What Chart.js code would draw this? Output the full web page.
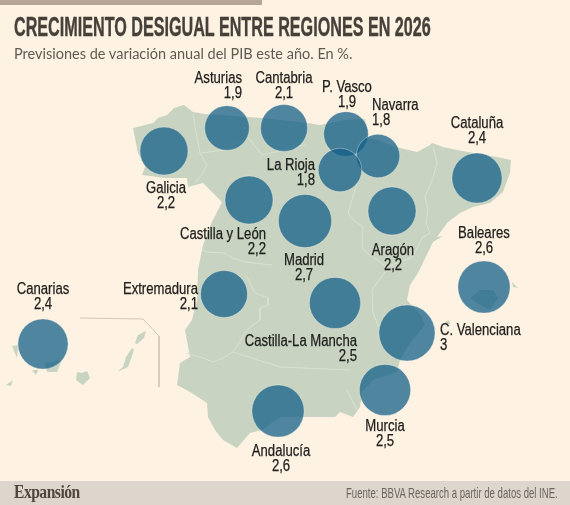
<!DOCTYPE html>
<html lang="es">
<head>
<meta charset="utf-8">
<script src="https://cdn.jsdelivr.net/npm/chart.js@4"></script>
<style>
  html, body { margin: 0; padding: 0; background: #fef2e2; }
  #wrap { position: relative; width: 570px; height: 505px; overflow: hidden; }
  #topbar { position: absolute; left: 0; top: 0; width: 262px; height: 5px; background: #b5a696; }
  #foot { position: absolute; left: 0; top: 481px; width: 570px; height: 24px; background: #ded5cd; }
  #title { position: absolute; left: 14px; top: 12px; margin: 0; font: bold 27px "Liberation Sans", sans-serif; color: #45413a; white-space: nowrap; transform-origin: 0 0; -webkit-text-stroke: 0.4px #45413a; }
  #sub { position: absolute; left: 14px; top: 45px; font: 14.5px Lato, sans-serif; color: #5f5b54; white-space: nowrap; }
  #brand { position: absolute; left: 14px; top: 482px; font: bold 18px "Liberation Serif", serif; letter-spacing: -0.6px; color: #4f463e; white-space: nowrap; transform-origin: 0 0; }
  #source { position: absolute; left: 346px; top: 484px; font: 15px "Liberation Sans", sans-serif; color: #6a655f; white-space: nowrap; transform-origin: 0 0; }
  canvas { position: absolute; left: 0; top: 0; }
</style>
</head>
<body>
<div id="wrap">
  <div id="topbar"></div>
  <div id="foot"></div>
  <canvas id="myChart" width="570" height="505"></canvas>
  <h1 id="title">CRECIMIENTO DESIGUAL ENTRE REGIONES EN 2026</h1>
  <div id="sub">Previsiones de variación anual del PIB este año. En %.</div>
  <div id="brand">Expansión</div>
  <div id="source">Fuente: BBVA Research a partir de datos del INE.</div>
</div>
<script>
  const regions = ['Asturias', 'Cantabria', 'P. Vasco', 'Navarra', 'La Rioja', 'Galicia', 'Cataluña', 'Castilla y León', 'Madrid', 'Aragón', 'Baleares', 'Extremadura', 'Canarias', 'Castilla-La Mancha', 'C. Valenciana', 'Murcia', 'Andalucía']
  const growth = [1.9, 2.1, 1.9, 1.8, 1.8, 2.2, 2.4, 2.2, 2.7, 2.2, 2.6, 2.1, 2.4, 2.5, 3, 2.5, 2.6]
  const regionX = [227, 284, 346, 378, 340, 164, 477, 249, 305, 392, 484, 224, 43, 335, 407, 385, 278]
  const regionY = [128, 128, 134, 156, 170, 151, 178, 200, 221, 211, 287, 294, 344, 303, 333, 390, 411]

  // outlines
  const mainland = [[133,128],[145,125],[153,123],[158,118],[167,115],[174,108],[184,105],[193,112],[205,114],[248,117],[262,118],[308,123],[320,125],[345,120],[365,119],[368,137],[400,148],[417,152],[430,145],[432,143],[443,147],[457,150],[473,153],[497,157],[511,160],[510,173],[503,192],[490,203],[473,207],[460,213],[447,223],[437,237],[443,236],[433,242],[418,273],[410,285],[407,300],[422,317],[425,325],[410,343],[400,360],[397,372],[373,380],[362,392],[360,407],[353,417],[340,412],[335,417],[310,417],[280,417],[262,430],[250,433],[237,448],[223,440],[215,430],[208,417],[207,403],[190,392],[177,385],[180,363],[190,357],[185,330],[192,320],[197,300],[198,270],[203,245],[212,222],[222,202],[213,193],[203,183],[188,187],[187,178],[165,178],[142,175],[145,167],[138,153]]
  const mallorca = [[470,298],[480,290],[493,290],[498,298],[490,310],[480,305]]
  const menorca = [[512,282],[518,288],[513,287]]
  const ibiza = [[445,322],[449,320],[450,324],[446,325]]
  const lanzarote = [[135,343],[138,335],[146,331],[144,338],[137,344]]
  const fuerteventura = [[132,348],[134,350],[128,367],[117,372],[123,367],[126,357]]
  const granCanaria = [[77,372],[82,373],[87,371],[90,378],[83,385],[76,380]]
  const tenerife = [[45,363],[62,360],[57,372],[47,372]]
  const laPalma = [[12,346],[18,345],[17,358]]
  const gomera = [[32,370],[38,370],[36,375]]
  const hierro = [[6,385],[13,380],[11,386]]

  const borders = [
    [[193,115],[200,153],[207,165],[203,173],[195,183]],
    [[200,153],[225,150],[248,137],[262,155],[305,145]],
    [[203,250],[207,252],[225,253],[232,258],[245,262],[272,265]],
    [[433,147],[437,163],[433,178],[425,197],[428,210],[426,223],[430,233],[422,238]],
    [[358,180],[348,213],[351,218],[363,227],[362,247],[367,253],[387,267],[413,257],[422,238]],
    [[385,272],[372,290],[373,313],[380,330]],
    [[347,390],[357,410]],
    [[247,277],[255,293],[268,298],[268,305],[260,308],[260,320],[250,327],[245,333],[233,352],[223,358],[213,362],[203,358],[193,355],[187,353]],
    [[233,352],[280,367],[350,370]]
  ]
  const calloutLine = [[80,318],[143,319],[159,336],[159,387]]

  // how each label sits against its anchor: x, align, y of first line
  const labelX = [242, 284, 347, 372, 315, 166, 477, 266, 304, 393, 484, 198, 43, 357, 440, 385, 281]
  const labelAlign = ['right', 'center', 'center', 'left', 'right', 'center', 'center', 'right', 'center', 'center', 'center', 'right', 'center', 'right', 'left', 'center', 'center']
  const labelY = [79, 79, 88, 106, 166, 189, 124, 235, 261, 251, 234, 290, 290, 342, 331, 427, 452]

  const toPoints = pts => pts.map(p => ({ x: p[0], y: p[1] }))

  function landShape(pts) {
    return {
      type: 'scatter',
      data: toPoints(pts.concat([pts[0]])),
      showLine: true,
      fill: 'shape',
      tension: 0,
      borderWidth: 0,
      borderColor: '#c8d4c1',
      backgroundColor: '#c8d4c1',
      pointRadius: 0,
      order: 3
    }
  }

  function plainLine(pts, color, order) {
    return {
      type: 'scatter',
      data: toPoints(pts),
      showLine: true,
      fill: false,
      tension: 0,
      borderWidth: 1,
      borderColor: color,
      pointRadius: 0,
      order: order
    }
  }

  // no condensed face here, so squeeze a normal one
  const labelSqueeze = 0.82

  const labelPlugin = {
    id: 'regionLabels',
    afterDatasetsDraw(chart) {
      const ctx = chart.ctx
      ctx.save()
      ctx.font = '16px "Liberation Sans", sans-serif'
      ctx.fillStyle = '#20201e'
      ctx.strokeStyle = '#20201e'
      ctx.lineWidth = 0.25
      ctx.textBaseline = 'middle'
      regions.forEach((name, i) => {
        const x = chart.scales.x.getPixelForValue(labelX[i])
        const y = chart.scales.y.getPixelForValue(labelY[i])
        const val = String(growth[i]).replace('.', ',')
        ctx.save()
        ctx.translate(x, y)
        ctx.scale(labelSqueeze, 1)
        ctx.textAlign = labelAlign[i]
        ctx.fillText(name, 0, 0)
        ctx.strokeText(name, 0, 0)
        ctx.fillText(val, 0, 15)
        ctx.strokeText(val, 0, 15)
        ctx.restore()
      })
      ctx.restore()
    }
  }

  const ctx = document.getElementById('myChart')

  new Chart(ctx, {
    type: 'bubble',
    data: {
      datasets: [
        {
          label: 'PIB 2026',
          data: regions.map((r, i) => ({ x: regionX[i], y: regionY[i], r: Math.sqrt(growth[i]) * 16.2 })),
          backgroundColor: 'rgba(18,95,135,0.74)',
          borderColor: 'rgba(255,250,240,0.35)',
          borderWidth: 1,
          order: 0
        },
        ...[mainland, mallorca, menorca, ibiza, lanzarote, fuerteventura, granCanaria, tenerife, laPalma, gomera, hierro].map(landShape),
        ...borders.map(b => plainLine(b, '#d9e2d0', 2)),
        plainLine(calloutLine, '#d2c7b8', 2)
      ]
    },
    plugins: [labelPlugin],
    options: {
      responsive: false,
      animation: false,
      layout: { padding: 0, autoPadding: false },
      plugins: { legend: { display: false }, tooltip: { enabled: false } },
      scales: {
        x: { type: 'linear', display: false, min: 0, max: 570 },
        y: { type: 'linear', display: false, min: 0, max: 505, reverse: true }
      }
    }
  })

  // fit the wide text to the widths in the picture
  function squeezeTo(id, width) {
    const el = document.getElementById(id)
    el.style.transform = 'scaleX(' + (width / el.offsetWidth) + ')'
  }
  squeezeTo('title', 417)
  squeezeTo('source', 212)
  squeezeTo('brand', 66)
</script>
</body>
</html>
